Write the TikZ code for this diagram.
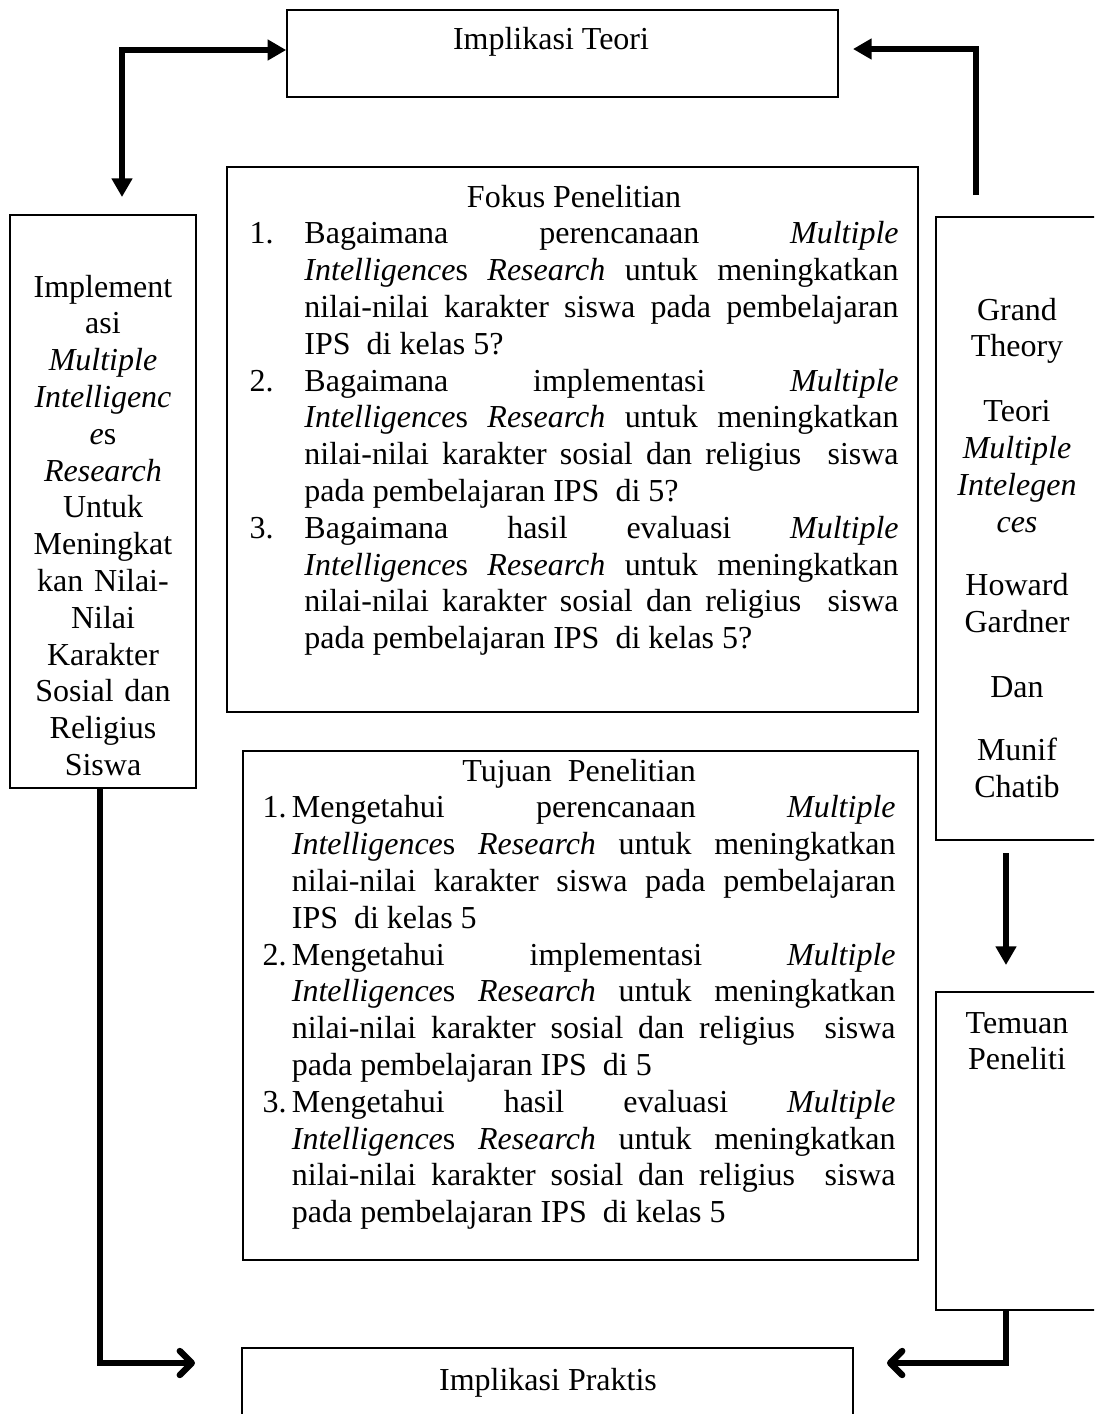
\documentclass[tikz,border=0pt]{standalone}
\usepackage{fontspec}
\setmainfont{Liberation Serif}
\usetikzlibrary{arrows.meta,fit}

% numbered item with hanging indent
\newcommand{\litem}[3]{\par\noindent\leftskip=0pt\rightskip=0pt\parfillskip=0pt plus 1fil\hangindent=#1\hangafter=1\makebox[#1][l]{#2}#3\par}

\begin{document}
\begin{tikzpicture}[x=0.375pt,y=-0.375pt,
  every node/.style={font=\fontsize{12}{13.8}\selectfont,inner sep=0pt},
  box/.style={draw,line width=0.6pt},
  txt/.style={align=center,text width=#1},
  arr/.style={line width=2.4pt,-{Triangle[length=7pt,width=7.5pt]}},
  barb/.style={line width=2.4pt,-{Straight Barb[length=4.5pt,width=9pt,round]}}]
\useasboundingbox (0,0) rectangle (1094,1414);
\clip (0,0) rectangle (1094,1414);
\tolerance=10000 \hbadness=10000
%
\node[box,fit={(287,10) (838,97)}] (teori) {};
\node[box,fit={(10,215) (196,788)}] (impl) {};
\node[box,fit={(227,167) (918,712)}] (fokus) {};
\node[box,fit={(936,217) (1100,840)}] (grand) {};
\node[box,fit={(243,751) (918,1260)}] (tujuan) {};
\node[box,fit={(936,992) (1100,1310)}] (temuan) {};
\node[box,fit={(242,1348) (853,1420)}] (praktis) {};
%
\node[anchor=base] (teoriTxt) at (551,49) {Implikasi Teori};
\node[anchor=base] (praktisTxt) at (548,1390) {Implikasi Praktis};
\node[txt=66pt,anchor=base] (implTxt) at (103,297) {Implement\\asi\\\textit{Multiple}\\\textit{Intelligenc}\\\textit{e}s\\\textit{Research}\\Untuk\\Meningkat\\kan Nilai-\\Nilai\\Karakter\\Sosial dan\\Religius\\Siswa};
\node[txt=56pt,anchor=base] (grandTxt) at (1017,320) {Grand\\Theory\\[10.6pt]Teori\\\textit{Multiple}\\\textit{Intelegen}\\\textit{ces}\\[10pt]Howard\\Gardner\\[10.5pt]Dan\\[10pt]Munif\\Chatib};
\node[txt=56pt,anchor=base] (temuanTxt) at (1017,1033) {Temuan\\Peneliti};
%
\node[text width=243.4pt,align=justify,anchor=base west] (fokusTxt) at (249,207) {%
{\centering Fokus Penelitian\par}
\litem{20.6pt}{1.}{Bagaimana perencanaan \textit{Multiple}\linebreak
\textit{Intelligence}s \textit{Research} untuk meningkatkan\linebreak
nilai-nilai karakter siswa pada pembelajaran\linebreak
IPS\ \ di kelas 5?}
\litem{20.6pt}{2.}{Bagaimana implementasi \textit{Multiple}\linebreak
\textit{Intelligence}s \textit{Research} untuk meningkatkan\linebreak
nilai-nilai karakter sosial dan religius\ \ siswa\linebreak
pada pembelajaran IPS\ \ di 5?}
\litem{20.6pt}{3.}{Bagaimana hasil evaluasi \textit{Multiple}\linebreak
\textit{Intelligence}s \textit{Research} untuk meningkatkan\linebreak
nilai-nilai karakter sosial dan religius\ \ siswa\linebreak
pada pembelajaran IPS\ \ di kelas 5?}};
%
\node[text width=237.4pt,align=justify,anchor=base west] (tujuanTxt) at (262,781) {%
{\centering Tujuan\ \ Penelitian\par}
\litem{11pt}{1.}{Mengetahui perencanaan \textit{Multiple}\linebreak
\textit{Intelligence}s \textit{Research} untuk meningkatkan\linebreak
nilai-nilai karakter siswa pada pembelajaran\linebreak
IPS\ \ di kelas 5}
\litem{11pt}{2.}{Mengetahui implementasi \textit{Multiple}\linebreak
\textit{Intelligence}s \textit{Research} untuk meningkatkan\linebreak
nilai-nilai karakter sosial dan religius\ \ siswa\linebreak
pada pembelajaran IPS\ \ di 5}
\litem{11pt}{3.}{Mengetahui hasil evaluasi \textit{Multiple}\linebreak
\textit{Intelligence}s \textit{Research} untuk meningkatkan\linebreak
nilai-nilai karakter sosial dan religius\ \ siswa\linebreak
pada pembelajaran IPS\ \ di kelas 5}};
%
\coordinate (tlc) at (122,50);
\coordinate (implTip) at (122,197);
\coordinate (trc) at (976,49);
\coordinate (grandTail) at (976,195);
\coordinate (teoriTip) at (853,49);
\coordinate (downTail) at (1006,853);
\coordinate (downTip) at (1006,965);
\coordinate (blc) at (100,1363);
\coordinate (blTip) at (195,1363);
\coordinate (brc) at (1006,1363);
\coordinate (brTip) at (887,1363);
%
\draw[arr,{Triangle[length=7pt,width=7.5pt]}-{Triangle[length=7pt,width=7.5pt]}] (implTip) -- (tlc) -- (teori.west |- tlc);
\draw[arr] (grandTail) -- (trc) -- (teoriTip);
\draw[arr] (downTail) -- (downTip);
\draw[barb] (impl.south -| blc) -- (blc) -- (blTip);
\draw[barb] (temuan.south -| brc) -- (brc) -- (brTip);
\end{tikzpicture}
\end{document}
